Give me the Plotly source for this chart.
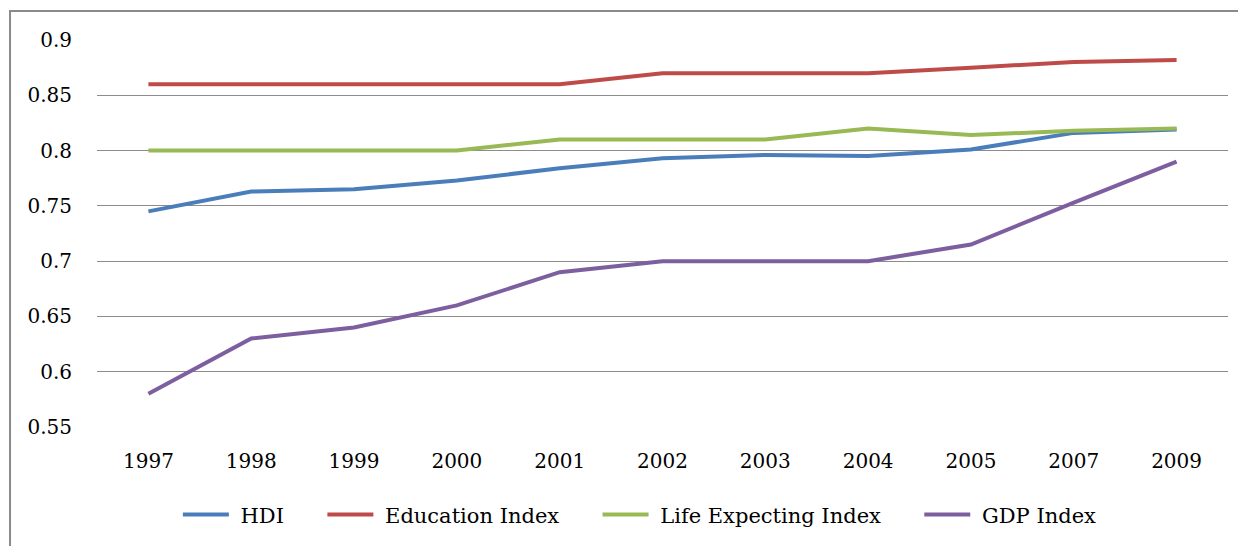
import plotly.graph_objects as go

years = ["1997", "1998", "1999", "2000", "2001", "2002", "2003", "2004", "2005", "2007", "2009"]
hdi = [0.745, 0.763, 0.765, 0.773, 0.784, 0.793, 0.796, 0.795, 0.801, 0.816, 0.819]
education = [0.86, 0.86, 0.86, 0.86, 0.86, 0.87, 0.87, 0.87, 0.875, 0.88, 0.882]
life = [0.80, 0.80, 0.80, 0.80, 0.81, 0.81, 0.81, 0.82, 0.814, 0.818, 0.82]
gdp = [0.58, 0.63, 0.64, 0.66, 0.69, 0.70, 0.70, 0.70, 0.715, 0.753, 0.79]

series = [
    ("HDI", hdi, "#4a7ebb"),
    ("Education Index", education, "#be4b48"),
    ("Life Expecting Index", life, "#98b954"),
    ("GDP Index", gdp, "#7d5fa0"),
]

NB = "\u00a0"
fig = go.Figure()
for i, (name, vals, color) in enumerate(series):
    label = NB + name + (NB * 5 if i < len(series) - 1 else "")
    fig.add_trace(go.Scatter(x=years, y=vals, name=label, mode="lines",
                             line=dict(color=color, width=4)))

font = dict(family="DejaVu Serif", size=20, color="#000000")
lfont = dict(family="DejaVu Serif", size=21, color="#000000")

fig.update_layout(
    width=1238, height=538,
    margin=dict(l=89, r=18, t=32, b=118),
    paper_bgcolor="white", plot_bgcolor="white",
    font=font,
    showlegend=True,
    legend=dict(orientation="h", x=0.48, xanchor="center", y=-0.224, yanchor="middle",
                font=lfont, itemwidth=46, tracegroupgap=0),
    xaxis=dict(type="category", range=[-0.5, 10.5], showgrid=False, zeroline=False,
               showline=False, ticks="", tickfont=font, ticklabelstandoff=20),
    yaxis=dict(range=[0.55, 0.9], dtick=0.05, tick0=0.55, showgrid=True,
               gridcolor="#8c8c8c", gridwidth=1, zeroline=False, showline=False,
               ticks="", tickfont=font, ticklabelstandoff=24,
               tickformat="~g"),
    shapes=[dict(type="rect", xref="paper", yref="paper",
                 x0=-0.0769, x1=1.2, y0=-0.5, y1=1.0747,
                 line=dict(color="#8a8a8a", width=2), layer="below")],
)

fig.write_html("out.html")
